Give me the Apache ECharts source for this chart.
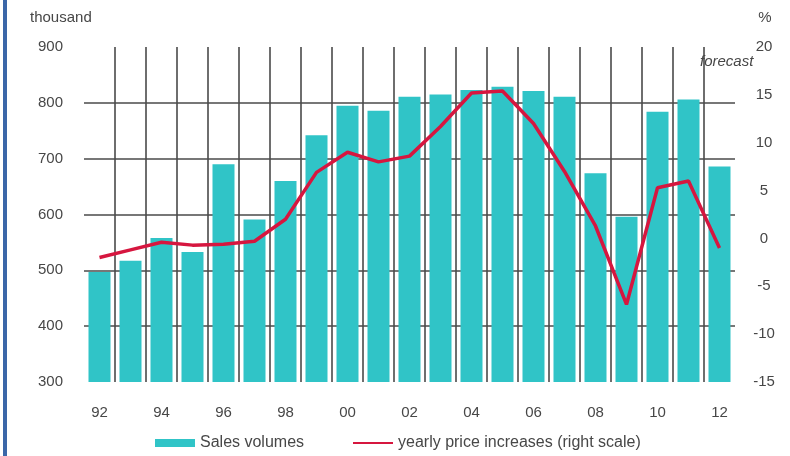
<!DOCTYPE html>
<html>
<head>
<meta charset="utf-8">
<script src="https://cdn.jsdelivr.net/npm/echarts@6/dist/echarts.min.js"></script>
<style>
  html, body { margin: 0; padding: 0; background: #ffffff; }
  #chart { width: 790px; height: 456px; }
</style>
</head>
<body>
<div id="chart"></div>
<script>
// Housing market: sales volumes (thousand, left) and yearly price change (%, right)
const years = ['92','93','94','95','96','97','98','99','00','01','02','03','04','05','06','07','08','09','10','11','12'];
const salesVolumes = [497, 517, 558, 533, 690, 591, 660, 742, 795, 786, 811, 815, 823, 829, 821, 811, 674, 596, 784, 806, 686];
const priceIncreases = [-2.0, -1.2, -0.4, -0.7, -0.6, -0.3, 2.0, 6.9, 9.0, 8.0, 8.6, 11.7, 15.2, 15.4, 12.0, 7.0, 1.3, -6.9, 5.3, 6.0, -1.0];
const leftScale = { min: 300, max: 900, interval: 100 };
const rightScale = { min: -15, max: 20, interval: 5 };

const textColor = '#474747';
const gridColor = '#4a4a4a';
const font = 'Liberation Sans, Arial, sans-serif';

const chart = echarts.init(document.getElementById('chart'), null, { renderer: 'canvas' });

chart.setOption({
  backgroundColor: '#ffffff',
  animation: false,
  grid: { left: 84, right: 55, top: 47, bottom: 74 },
  legend: [
    {
      data: [{ name: 'Sales volumes', icon: 'rect' }],
      left: 155, top: 435, padding: 0,
      itemWidth: 40, itemHeight: 8,
      textStyle: { color: textColor, fontSize: 16, fontFamily: font }
    },
    {
      data: [{ name: 'yearly price increases (right scale)', icon: 'rect' }],
      left: 353, top: 435, padding: 0,
      itemWidth: 40, itemHeight: 2,
      textStyle: { color: textColor, fontSize: 16, fontFamily: font }
    }
  ],
  xAxis: {
    type: 'category',
    data: years,
    boundaryGap: true,
    axisLine: { show: false },
    axisTick: { show: false },
    axisLabel: { interval: 1, margin: 23, color: textColor, fontSize: 15, fontFamily: font },
    splitLine: {
      show: true, interval: 0, showMinLine: false, showMaxLine: false,
      lineStyle: { color: gridColor, width: 1.6 }
    }
  },
  yAxis: [
    {
      type: 'value',
      min: leftScale.min, max: leftScale.max, interval: leftScale.interval,
      name: 'thousand',
      nameLocation: 'end',
      nameGap: 22,
      nameTextStyle: { color: textColor, fontSize: 15, fontFamily: font, align: 'left', padding: [0, 0, 0, -54] },
      axisLine: { show: false },
      axisTick: { show: false },
      axisLabel: { margin: 21, color: textColor, fontSize: 15, fontFamily: font },
      splitLine: {
        show: true, showMinLine: false, showMaxLine: false,
        lineStyle: { color: gridColor, width: 1.6 }
      }
    },
    {
      type: 'value',
      position: 'right',
      min: rightScale.min, max: rightScale.max, interval: rightScale.interval,
      name: '%',
      nameLocation: 'end',
      nameGap: 22,
      nameTextStyle: { color: textColor, fontSize: 15, fontFamily: font, padding: [0, 0, 0, 60] },
      axisLine: { show: false },
      axisTick: { show: false },
      axisLabel: { margin: 29, align: 'center', color: textColor, fontSize: 15, fontFamily: font },
      splitLine: { show: false }
    }
  ],
  graphic: [
    {
      type: 'rect', left: 3, top: 0,
      shape: { width: 4, height: 456 },
      style: { fill: '#3b67a8' }
    },
    {
      type: 'text', left: 700, top: 54,
      style: { text: 'forecast', fill: textColor, font: 'italic 15px Liberation Sans, Arial, sans-serif' }
    }
  ],
  series: [
    {
      name: 'Sales volumes',
      type: 'bar',
      yAxisIndex: 0,
      data: salesVolumes,
      barCategoryGap: '29%',
      itemStyle: { color: '#30c4c7' }
    },
    {
      name: 'yearly price increases (right scale)',
      type: 'line',
      yAxisIndex: 1,
      data: priceIncreases,
      symbol: 'none',
      lineStyle: { color: '#d6163f', width: 3.5 },
      itemStyle: { color: '#d6163f' }
    }
  ]
});
</script>
</body>
</html>
